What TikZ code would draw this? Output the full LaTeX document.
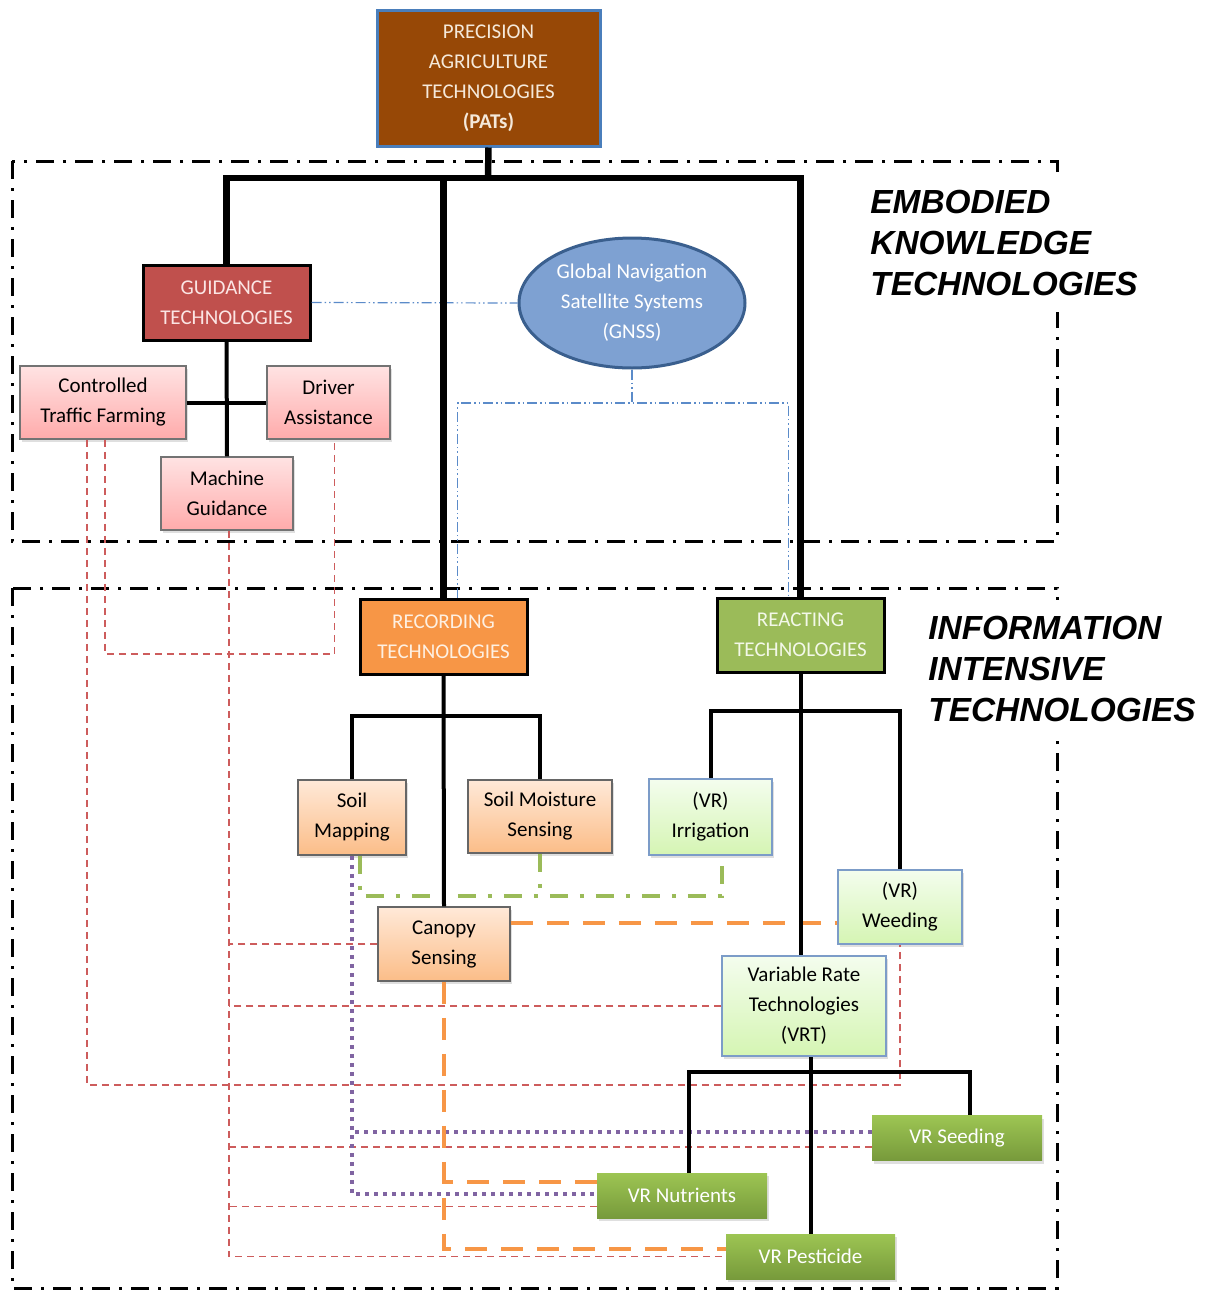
\documentclass[tikz,border=0pt]{standalone}
\usepackage{fontspec}
\setmainfont{Carlito}
\newfontfamily\labelfont{Liberation Sans}
\usetikzlibrary{shapes.geometric,shadows}
\definecolor{patbrown}{HTML}{974806}
\definecolor{patblue}{HTML}{4A7EBB}
\definecolor{pattext}{HTML}{F5E9DA}
\definecolor{guidred}{HTML}{C0504D}
\definecolor{guidtext}{HTML}{FBE5E4}
\definecolor{gnssblue}{HTML}{7EA1D2}
\definecolor{gnssborder}{HTML}{3A5F8E}
\definecolor{pinktop}{HTML}{FFE3E3}
\definecolor{pinkbot}{HTML}{FFABAB}
\definecolor{recorange}{HTML}{F79646}
\definecolor{rectext}{HTML}{FEF0E2}
\definecolor{reagreen}{HTML}{9BBB59}
\definecolor{reatext}{HTML}{F3F8E8}
\definecolor{peachtop}{HTML}{FFE9D8}
\definecolor{peachbot}{HTML}{FBBD88}
\definecolor{limetop}{HTML}{F4FDEE}
\definecolor{limebot}{HTML}{D5F5B3}
\definecolor{limeborder}{HTML}{7C9CC8}
\definecolor{vrtop}{HTML}{9DC553}
\definecolor{vrbot}{HTML}{779A3B}
\definecolor{redline}{HTML}{CD5C5C}
\definecolor{blueline}{HTML}{5B8BC9}
\definecolor{greenline}{HTML}{9BBB59}
\definecolor{orangeline}{HTML}{F79646}
\definecolor{purpleline}{HTML}{8064A2}
\begin{document}
\begin{tikzpicture}[x=1pt,y=-1pt,
  every node/.style={font=\fontsize{21}{30}\selectfont, align=center, inner sep=0pt},
  framebox/.style={line width=3pt, dash pattern=on 18pt off 9pt on 3pt off 9pt},
  areatext/.style={font=\labelfont\bfseries\itshape\fontsize{33.4}{41}\selectfont, align=left, fill=white, inner xsep=3pt, inner ysep=16pt},
  mainbox/.style={draw=black, line width=3pt, minimum width=167pt, minimum height=75pt},
  lightshadow/.style={drop shadow={shadow xshift=2pt, shadow yshift=-3pt, opacity=0.25}},
  pinkbox/.style={lightshadow, draw=black!55, line width=1.5pt, top color=pinktop, bottom color=pinkbot, minimum height=73pt},
  peachbox/.style={lightshadow, draw=black!60, line width=1.5pt, top color=peachtop, bottom color=peachbot, minimum height=74pt},
  limebox/.style={lightshadow, draw=limeborder, line width=1.5pt, top color=limetop, bottom color=limebot},
  vrbox/.style={lightshadow, top color=vrtop, bottom color=vrbot, text=white, minimum width=170pt, minimum height=45pt},
  bus/.style={line width=6.5pt},
  tree/.style={line width=4pt},
  redlink/.style={draw=redline, line width=1.5pt, dash pattern=on 7pt off 5pt},
  bluelink/.style={draw=blueline, line width=1.2pt, dash pattern=on 10pt off 3pt on 1.5pt off 3pt on 1.5pt off 3pt},
  greenlink/.style={draw=greenline, line width=4pt, dash pattern=on 18pt off 12pt on 4pt off 12pt},
  orangelink/.style={draw=orangeline, line width=4pt, dash pattern=on 22pt off 14pt},
  purplelink/.style={draw=purpleline, line width=4pt, dash pattern=on 4pt off 5pt}]
\useasboundingbox (0,0) rectangle (1208,1291);

\draw[framebox] (12,161) rectangle (1057,541);
\draw[framebox] (12,588) rectangle (1057,1288);
\node[areatext] (ekt) at (1004,243) {EMBODIED\\KNOWLEDGE\\TECHNOLOGIES};
\node[areatext] (iit) at (1062,669) {INFORMATION\\INTENSIVE\\TECHNOLOGIES};

\node[draw=patblue, line width=3pt, fill=patbrown, text=pattext, minimum width=223pt, minimum height=136pt] (pats) at (488.5,78) {PRECISION\\AGRICULTURE\\TECHNOLOGIES\\\textbf{(PATs)}};
\node[mainbox, fill=guidred, text=guidtext] (guid) at (226.5,302.5) {GUIDANCE\\TECHNOLOGIES};
\node[ellipse, draw=gnssborder, line width=3pt, fill=gnssblue, text=white, minimum width=226pt, minimum height=130pt] (gnss) at (632,303) {Global Navigation\\Satellite Systems\\(GNSS)};
\node[pinkbox, minimum width=166pt] (ctf) at (103,402.5) {Controlled\\Traffic Farming};
\node[pinkbox, minimum width=123pt] (da) at (328.5,402.5) {Driver\\Assistance};
\node[pinkbox, minimum width=132pt] (mg) at (227,493.5) {Machine\\Guidance};
\node[mainbox, fill=recorange, text=rectext] (rec) at (443.5,636.5) {RECORDING\\TECHNOLOGIES};
\node[mainbox, fill=reagreen, text=reatext, minimum height=74pt] (rea) at (800.5,635) {REACTING\\TECHNOLOGIES};
\node[peachbox, minimum width=108pt, minimum height=75pt] (smap) at (352,817.5) {Soil\\Mapping};
\node[peachbox, minimum width=144pt, minimum height=73pt] (smoist) at (540,816.5) {Soil Moisture\\Sensing};
\node[peachbox, minimum width=132pt] (canopy) at (444,944) {Canopy\\Sensing};
\node[limebox, minimum width=123pt, minimum height=76pt] (irr) at (710.5,817) {(VR)\\Irrigation};
\node[limebox, minimum width=124pt, minimum height=74pt] (weed) at (900,907) {(VR)\\Weeding};
\node[limebox, minimum width=164pt, minimum height=100pt] (vrt) at (804,1006) {Variable Rate\\Technologies\\(VRT)};
\node[vrbox] (seed) at (957,1138) {VR Seeding};
\node[vrbox] (nutr) at (682,1195.5) {VR Nutrients};
\node[vrbox, minimum width=169pt] (pest) at (810.5,1256.5) {VR Pesticide};

\coordinate (busfork) at (488,178);
\coordinate (recfork) at (445,716);
\coordinate (reafork) at (802,711);
\coordinate (vrtfork) at (809,1072);
\coordinate (gnssfork) at (632,403);
\coordinate (soilfork) at (540,896);
\coordinate (redctf) at (229,654);
\coordinate (redweed) at (500,1085);

\draw[redlink] ([xshift=-16pt]ctf.south) |- (redweed) -| (weed.south);
\draw[redlink] ([xshift=2pt]ctf.south) |- (redctf) -| ([xshift=6pt]da.south);
\draw[redlink] ([xshift=2pt]mg.south) |- (pest.west);
\draw[redlink] (canopy.west) -- (canopy.west -| redctf);
\draw[redlink] (vrt.west) -- (vrt.west -| redctf);
\draw[redlink] ([yshift=-9pt]seed.west) -- ([yshift=-9pt]seed.west -| redctf);
\draw[redlink] ([yshift=-11pt]nutr.west) -- ([yshift=-11pt]nutr.west -| redctf);

\draw[purplelink] (smap.south) |- ([yshift=2pt]nutr.west);
\draw[purplelink] ([yshift=6pt]seed.west) -- ([yshift=6pt]seed.west -| smap.south);

\draw[orangelink] ([yshift=21pt]canopy.east) -- ([yshift=21pt]canopy.east -| weed.west);
\draw[orangelink] (canopy.south) |- ([yshift=8pt]pest.west);
\draw[orangelink] ([yshift=14pt]nutr.west) -- ([yshift=14pt]nutr.west -| canopy.south);

\draw[greenlink] ([xshift=8pt]smap.south) |- (soilfork) -| ([xshift=11pt]irr.south);
\draw[greenlink] (smoist.south) -- (soilfork);

\draw[bluelink] (guid.east) -- (gnss.west);
\draw[bluelink] (gnss.south) -- (gnssfork);
\draw[bluelink] ([xshift=14pt]rec.north) |- (gnssfork) -| ([xshift=-12pt]rea.north);

\draw[tree] (guid.south) -- (mg.north);
\draw[tree] (ctf.east) -- (da.west);
\draw[tree] (rec.south) -- (canopy.north);
\draw[tree] (smap.north) |- (recfork) -| (smoist.north);
\draw[tree] (rea.south) -- (rea.south |- vrt.north);
\draw[tree] (irr.north) |- (reafork) -| (weed.north);
\draw[tree] (pest.north) -- (pest.north |- vrt.south);
\draw[tree] ([xshift=7pt]nutr.north) |- (vrtfork) -| ([xshift=13pt]seed.north);

\draw[bus] (pats.south) -- (busfork);
\draw[bus] (guid.north) |- (busfork) -| (rea.north);
\draw[bus] (rec.north) -- (rec.north |- busfork);
\end{tikzpicture}
\end{document}
